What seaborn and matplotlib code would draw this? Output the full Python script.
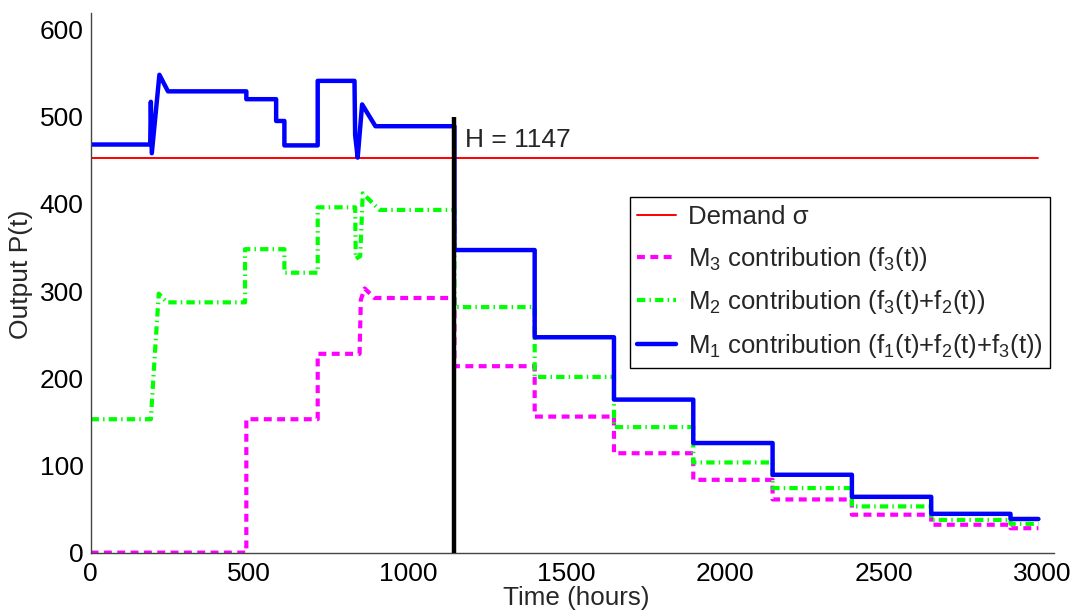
import numpy as np
import pandas as pd
import matplotlib
matplotlib.use("Agg")
import matplotlib.pyplot as plt
import seaborn as sns

# ---------------- data ----------------
H = 1147            # switching horizon
H_LINE_TOP = 500    # height of the vertical marker
T_END = 2988
DEMAND = 452

# transient part before H : (time, value) samples
m1_pre_t = [0, 188, 190, 193, 217, 244, 491, 491, 585, 585, 611, 611, 716, 716, 832, 834, 842, 856, 898, H]
m1_pre_v = [468, 468, 517, 458, 548, 529, 529, 520, 520, 495, 495, 467, 467, 541, 541, 479, 453, 514, 489, 489]

m2_pre_t = [0, 190, 203, 215, 241, 487, 487, 611, 611, 716, 716, 834, 836, 850, 858, 911, H]
m2_pre_v = [153, 153, 230, 297, 287, 287, 348, 348, 321, 321, 396, 396, 337, 340, 412, 393, 393]

m3_pre_t = [0, 491, 491, 716, 716, 848, 852, 864, 895, H]
m3_pre_v = [0, 0, 153, 153, 228, 228, 290, 303, 292, 292]

# piecewise-constant part after H
post_breaks = [H, 1400, 1650, 1900, 2150, 2400, 2650, 2900]
m1_post = [347, 247, 175.5, 125.7, 89.3, 64, 44.5, 38.6]
m2_post = [281.6, 201.5, 144, 103.4, 74, 53, 37.5, 33]
m3_post = [213.8, 156, 114, 83.5, 61, 43.5, 32, 28]

labels = [r"Demand σ",
          r"M$_3$ contribution (f$_3$(t))",
          r"M$_2$ contribution (f$_3$(t)+f$_2$(t))",
          r"M$_1$ contribution (f$_1$(t)+f$_2$(t)+f$_3$(t))"]


def series(pre_t, pre_v, breaks, levels, end):
    t = list(pre_t)
    v = list(pre_v)
    edges = list(breaks) + [end]
    for i, lev in enumerate(levels):
        t += [edges[i], edges[i + 1]]
        v += [lev, lev]
    return pd.DataFrame({"t": t, "v": v})


df_dem = pd.DataFrame({"t": [0, T_END], "v": [DEMAND, DEMAND]})
df_m3 = series(m3_pre_t, m3_pre_v, post_breaks, m3_post, T_END)
df_m2 = series(m2_pre_t, m2_pre_v, post_breaks, m2_post, T_END)
df_m1 = series(m1_pre_t, m1_pre_v, post_breaks, m1_post, T_END)

# ---------------- style ----------------
sns.set_style("white")
plt.rcParams["font.family"] = ["Liberation Sans", "DejaVu Sans"]
plt.rcParams["mathtext.fontset"] = "custom"
plt.rcParams["mathtext.rm"] = "Liberation Sans"
plt.rcParams["mathtext.it"] = "Liberation Sans:italic"
plt.rcParams["mathtext.bf"] = "Liberation Sans:bold"

FS = 19
fig = plt.figure(figsize=(10.77, 6.12), dpi=100)
ax = fig.add_axes([0.0841, 0.097, 0.8945, 0.882])

sns.lineplot(data=df_dem, x="t", y="v", color="#ff0000", lw=1.4, sort=False,
             estimator=None, ax=ax, label=labels[0])
sns.lineplot(data=df_m3, x="t", y="v", color="#ff00ff", lw=3, sort=False,
             estimator=None, ax=ax, label=labels[1])
ax.lines[-1].set_dashes([1.9, 1.3])
sns.lineplot(data=df_m2, x="t", y="v", color="#00ff00", lw=3, sort=False,
             estimator=None, ax=ax, label=labels[2])
ax.lines[-1].set_dashes([2.0, 1.0, 0.35, 1.0])
sns.lineplot(data=df_m1, x="t", y="v", color="#0000ff", lw=3.2, sort=False,
             estimator=None, ax=ax, label=labels[3])

ax.vlines(H, 0, H_LINE_TOP, color="black", lw=3.2, zorder=5)
ax.text(1180, 465, f"H = {H}", fontsize=FS, ha="left", va="baseline")

ax.set_xlim(0, 3037)
ax.set_ylim(0, 619)
ax.set_xticks([0, 500, 1000, 1500, 2000, 2500, 3000])
ax.set_yticks([0, 100, 200, 300, 400, 500, 600])
ax.tick_params(direction="in", length=6.5, width=1, colors="#444444",
               labelcolor="black", labelsize=FS)
ax.tick_params(axis="x", pad=6.5)
ax.tick_params(axis="y", pad=5)
for s in ["top", "right"]:
    ax.spines[s].set_visible(False)
for s in ["left", "bottom"]:
    ax.spines[s].set_color("#444444")
    ax.spines[s].set_linewidth(1)

ax.set_xlabel("Time (hours)", fontsize=18.7)
ax.set_ylabel("Output P(t)", fontsize=FS)
ax.xaxis.set_label_coords(0.5045, -0.062)
ax.yaxis.set_label_coords(-0.060, 0.515)

leg = ax.legend(loc="upper right", bbox_to_anchor=(0.996, 0.659),
                borderaxespad=0, fontsize=18.5, frameon=True, fancybox=False,
                handlelength=1.5, handletextpad=0.45, labelspacing=0.62,
                borderpad=0.3)
leg.get_frame().set_edgecolor("black")
leg.get_frame().set_linewidth(1)
leg.get_frame().set_alpha(1)

fig.savefig("out.png", dpi=100)
